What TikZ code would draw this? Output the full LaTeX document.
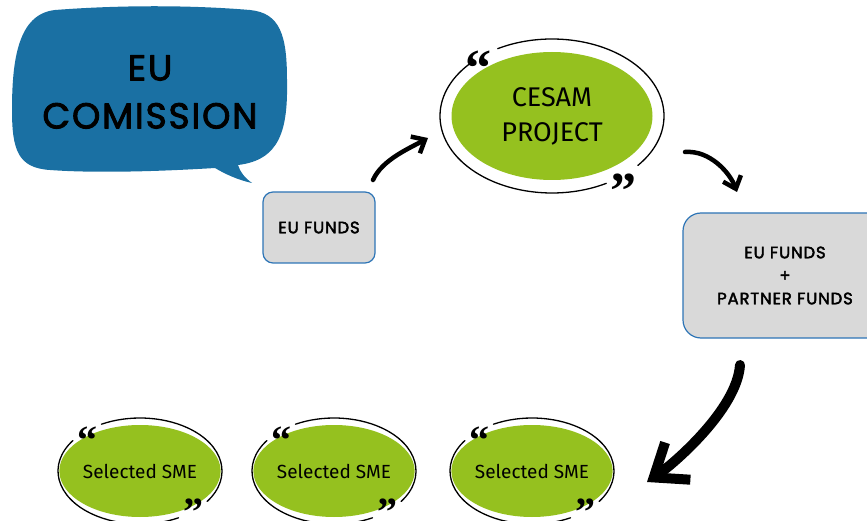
\documentclass[tikz,border=0pt]{standalone}
\usepackage{fontspec}
\setmainfont{Fira Sans}
\newfontfamily\handfont[LetterSpace=5,FakeBold=2.5]{Poppins}
\newfontfamily\quotefont{Liberation Serif}
\usetikzlibrary{arrows.meta,shapes.geometric}
\definecolor{bubbleblue}{RGB}{26,112,163}
\definecolor{limegreen}{RGB}{149,193,31}
\definecolor{fundgray}{RGB}{217,217,217}
\definecolor{edgeblue}{RGB}{46,117,182}
\tikzset{
  fundbox/.style={draw=edgeblue,fill=fundgray,line width=1.2pt,rounded corners=10pt,align=center,font=\handfont\fontsize{16.5}{23}\selectfont},
  greenoval/.style={ellipse,fill=limegreen,inner sep=0pt,align=center},
  quotemark/.style={font=\quotefont\bfseries\fontsize{#1}{#1}\selectfont,inner sep=0pt,anchor=base},
  frame/.style={line width=1.3pt}
}

\begin{document}
\begin{tikzpicture}[line cap=round,line join=round,x=1pt,y=-1pt]
\useasboundingbox (0,0) rectangle (867,521);
% speech bubble
\fill[bubbleblue] (55,10) .. controls (120,5) and (190,5) .. (250,10) .. controls (280,13) and (287,35) .. (287,80) .. controls (288,130) and (280,160) .. (238,165) .. controls (240,172) and (245,178) .. (252,183) .. controls (238,180) and (225,174) .. (215,168) .. controls (150,172) and (90,173) .. (50,170) .. controls (18,168) and (12,150) .. (12,110) .. controls (12,60) and (18,14) .. (55,10) -- cycle;
\node[font=\handfont\fontsize{36}{48}\selectfont,align=center] (comission) at (150,92) {EU\\COMISSION};
% funds
\node[fundbox,minimum width=112pt,minimum height=71pt] (eufunds) at (319,227.5) {EU FUNDS};
\node[fundbox,rounded corners=18pt,minimum width=204pt,minimum height=125pt] (partnerfunds) at (785,275.5) {EU FUNDS\\+\\PARTNER FUNDS};
% project
\node[greenoval,minimum width=201pt,minimum height=128pt,font=\fontsize{27}{35}\selectfont] (cesam) at (552,116) {CESAM\\PROJECT};
\draw[frame] ([shift={(-40:112pt and 77pt)}]cesam.center) arc[start angle=-40,end angle=119,x radius=112pt,y radius=77pt];
\draw[frame] ([shift={(137:112pt and 77pt)}]cesam.center) arc[start angle=137,end angle=299,x radius=112pt,y radius=77pt];
\node[quotemark=52] (cesam-open) at (478,86) {“};
\node[quotemark=52] (cesam-close) at (623,209) {”};
% SMEs
\foreach \cx/\nm in {140/smea,334/smeb,532/smec} {
  \node[greenoval,minimum width=146pt,minimum height=92pt,font=\fontsize{19}{19}\selectfont] (\nm) at (\cx,471) {Selected SME};
  \draw[frame] ([shift={(-35:82pt and 53pt)}]\nm.center) arc[start angle=-35,end angle=118,x radius=82pt,y radius=53pt];
  \draw[frame] ([shift={(145:82pt and 53pt)}]\nm.center) arc[start angle=145,end angle=298,x radius=82pt,y radius=53pt];
  \node[quotemark=40] (\nm-open) at (\cx-53,453) {“};
  \node[quotemark=40] (\nm-close) at (\cx+53,525) {”};
}
% arrows
\coordinate (a1s) at (373,180);
\coordinate (a1e) at (428,138);
\coordinate (a2s) at (685,152);
\coordinate (a2e) at (737,192);
\coordinate (a3s) at (740,365);
\coordinate (a3e) at (647,482);
\draw[line width=4.5pt,-{Straight Barb[length=11pt,width=19pt]}] (a1s) .. controls (382,160) and (408,149) .. (a1e);
\draw[line width=4.5pt,-{Straight Barb[length=11pt,width=19pt]}] (a2s) .. controls (710,150) and (730,173) .. (a2e);
\draw[line width=10pt,-{Straight Barb[length=29pt,width=45pt]}] (a3s) .. controls (737,410) and (672,465) .. (a3e);
\end{tikzpicture}
\end{document}
